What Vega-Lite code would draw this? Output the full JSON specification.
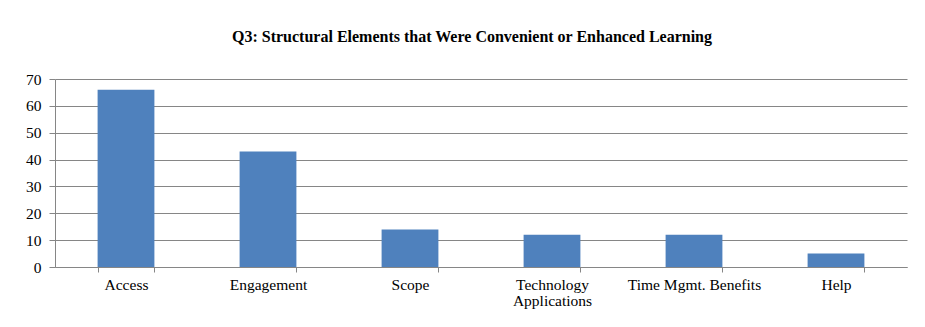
{
  "$schema": "https://vega.github.io/schema/vega-lite/v6.json",
  "width": 852,
  "height": 188,
  "autosize": "none",
  "padding": {"left": 55, "top": 79, "right": 18, "bottom": 60},
  "background": "white",
  "title": {
    "text": "Q3: Structural Elements that Were Convenient or Enhanced Learning",
    "font": "Liberation Serif",
    "fontSize": 16,
    "fontWeight": "bold",
    "color": "#000000",
    "anchor": "middle",
    "baseline": "alphabetic",
    "offset": 14,
    "dx": -9
  },
  "data": {
    "values": [
      {"category": "Access", "count": 66},
      {"category": "Engagement", "count": 43},
      {"category": "Scope", "count": 14},
      {"category": "Technology Applications", "count": 12},
      {"category": "Time Mgmt. Benefits", "count": 12},
      {"category": "Help", "count": 5}
    ]
  },
  "mark": {"type": "bar", "color": "#4f81bd"},
  "encoding": {
    "x": {
      "field": "category",
      "type": "nominal",
      "sort": null,
      "scale": {"paddingInner": 0.6, "paddingOuter": 0.3},
      "axis": {
        "title": null,
        "labelAngle": 0,
        "tickBand": "extent",
        "labelFont": "Liberation Serif",
        "labelFontSize": 15.5,
        "labelColor": "#000000",
        "labelPadding": 5,
        "labelLineHeight": 16,
        "labelLimit": 0,
        "labelExpr": "datum.label == 'Technology Applications' ? ['Technology', 'Applications'] : datum.label",
        "domainColor": "#868686",
        "tickColor": "#868686",
        "tickSize": 5,
        "grid": false
      }
    },
    "y": {
      "field": "count",
      "type": "quantitative",
      "scale": {"domain": [0, 70], "nice": false},
      "axis": {
        "title": null,
        "values": [0, 10, 20, 30, 40, 50, 60, 70],
        "labelFont": "Liberation Serif",
        "labelFontSize": 15.5,
        "labelColor": "#000000",
        "labelPadding": 8,
        "domainColor": "#868686",
        "tickColor": "#868686",
        "tickSize": 6,
        "gridColor": "#868686",
        "grid": true
      }
    }
  },
  "config": {
    "view": {"stroke": null},
    "axis": {"domainWidth": 1, "tickWidth": 1, "gridWidth": 1}
  }
}
